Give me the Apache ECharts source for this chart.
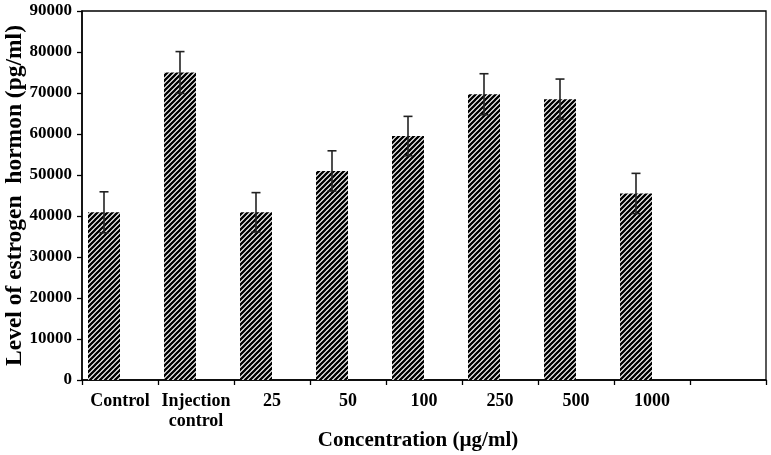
<!DOCTYPE html>
<html>
<head>
<meta charset="utf-8">
<script src="https://cdn.jsdelivr.net/npm/echarts@6/dist/echarts.min.js"></script>
<style>html,body{margin:0;padding:0;background:#fff;}#chart{width:771px;height:455px;}</style>
</head>
<body>
<div id="chart"></div>
<script>
var categories = ['Control', 'Injection\ncontrol', '25', '50', '100', '250', '500', '1000', ''];
var values = [40900, 75000, 40900, 51000, 59500, 69700, 68500, 45500, null];
var errors = [5000, 5100, 4800, 4900, 4800, 5000, 4900, 4900, null];
var yTicks = { min: 0, max: 90000, interval: 10000 };

var FONT = '"Liberation Serif", "Times New Roman", serif';
var BAR_W = 32;

function hatch() {
  var s = 5;
  var c = document.createElement('canvas');
  c.width = s; c.height = s;
  var g = c.getContext('2d');
  g.fillStyle = '#fff'; g.fillRect(0, 0, s, s);
  g.strokeStyle = '#000'; g.lineWidth = 2.3;
  g.beginPath();
  g.moveTo(-1, s + 1); g.lineTo(s + 1, -1);
  g.moveTo(-1, 1); g.lineTo(1, -1);
  g.moveTo(s - 1, s + 1); g.lineTo(s + 1, s - 1);
  g.stroke();
  return c;
}

var chart = echarts.init(document.getElementById('chart'), null, { renderer: 'canvas' });
var errData = values.map(function (v, i) { return v == null ? null : [i, v, errors[i]]; }).filter(function (d) { return d; });

chart.setOption({
  animation: false,
  grid: { left: 82, right: 5, top: 11, bottom: 75, containLabel: false, outerBoundsMode: 'none', show: true, borderColor: '#000', borderWidth: 1.3, backgroundColor: 'transparent' },
  xAxis: {
    type: 'category',
    data: categories,
    name: 'Concentration (µg/ml)',
    nameLocation: 'middle',
    nameMoveOverlap: false,
    nameGap: 50,
    nameTextStyle: { fontFamily: FONT, fontWeight: 'bold', fontSize: 21, color: '#000', padding: [0, 12, 0, 0] },
    axisLine: { lineStyle: { color: '#000', width: 1.5 } },
    axisTick: { show: true, alignWithLabel: false, length: 5, lineStyle: { color: '#000', width: 1.3 } },
    axisLabel: { fontFamily: FONT, fontWeight: 'bold', fontSize: 18, color: '#000', margin: 11, lineHeight: 20, interval: 0 },
    splitLine: { show: false }
  },
  yAxis: {
    type: 'value',
    min: yTicks.min, max: yTicks.max, interval: yTicks.interval,
    name: 'Level of estrogen  hormon (pg/ml)',
    nameLocation: 'middle',
    nameMoveOverlap: false,
    nameGap: 55,
    nameTextStyle: { fontFamily: FONT, fontWeight: 'bold', fontSize: 23.5, color: '#000' },
    axisLine: { show: true, lineStyle: { color: '#000', width: 1.5 } },
    axisTick: { show: true, length: 5, lineStyle: { color: '#000', width: 1.3 } },
    axisLabel: { fontFamily: FONT, fontWeight: 'bold', fontSize: 17, color: '#000', margin: 10, formatter: function (v) { return String(v); } },
    splitLine: { show: false }
  },
  series: [
    {
      type: 'bar',
      data: values,
      barWidth: BAR_W,
      barGap: '0%',
      itemStyle: { color: { image: hatch(), repeat: 'repeat' } },
      z: 2
    },
    {
      type: 'bar',
      data: values.map(function () { return null; }),
      barWidth: BAR_W,
      barGap: '0%'
    },
    {
      type: 'custom',
      data: errData,
      z: 5,
      renderItem: function (params, api) {
        var i = api.value(0), v = api.value(1), e = api.value(2);
        var top = api.coord([i, v + e]);
        var bot = api.coord([i, v - e]);
        var x = top[0] - BAR_W / 2;
        var cap = 4.5;
        var st = { stroke: '#222', lineWidth: 1.6 };
        return {
          type: 'group',
          children: [
            { type: 'line', shape: { x1: x, y1: top[1], x2: x, y2: bot[1] }, style: st },
            { type: 'line', shape: { x1: x - cap, y1: top[1], x2: x + cap, y2: top[1] }, style: st },
            { type: 'line', shape: { x1: x - cap, y1: bot[1], x2: x + cap, y2: bot[1] }, style: st }
          ]
        };
      }
    }
  ]
});
</script>
</body>
</html>
